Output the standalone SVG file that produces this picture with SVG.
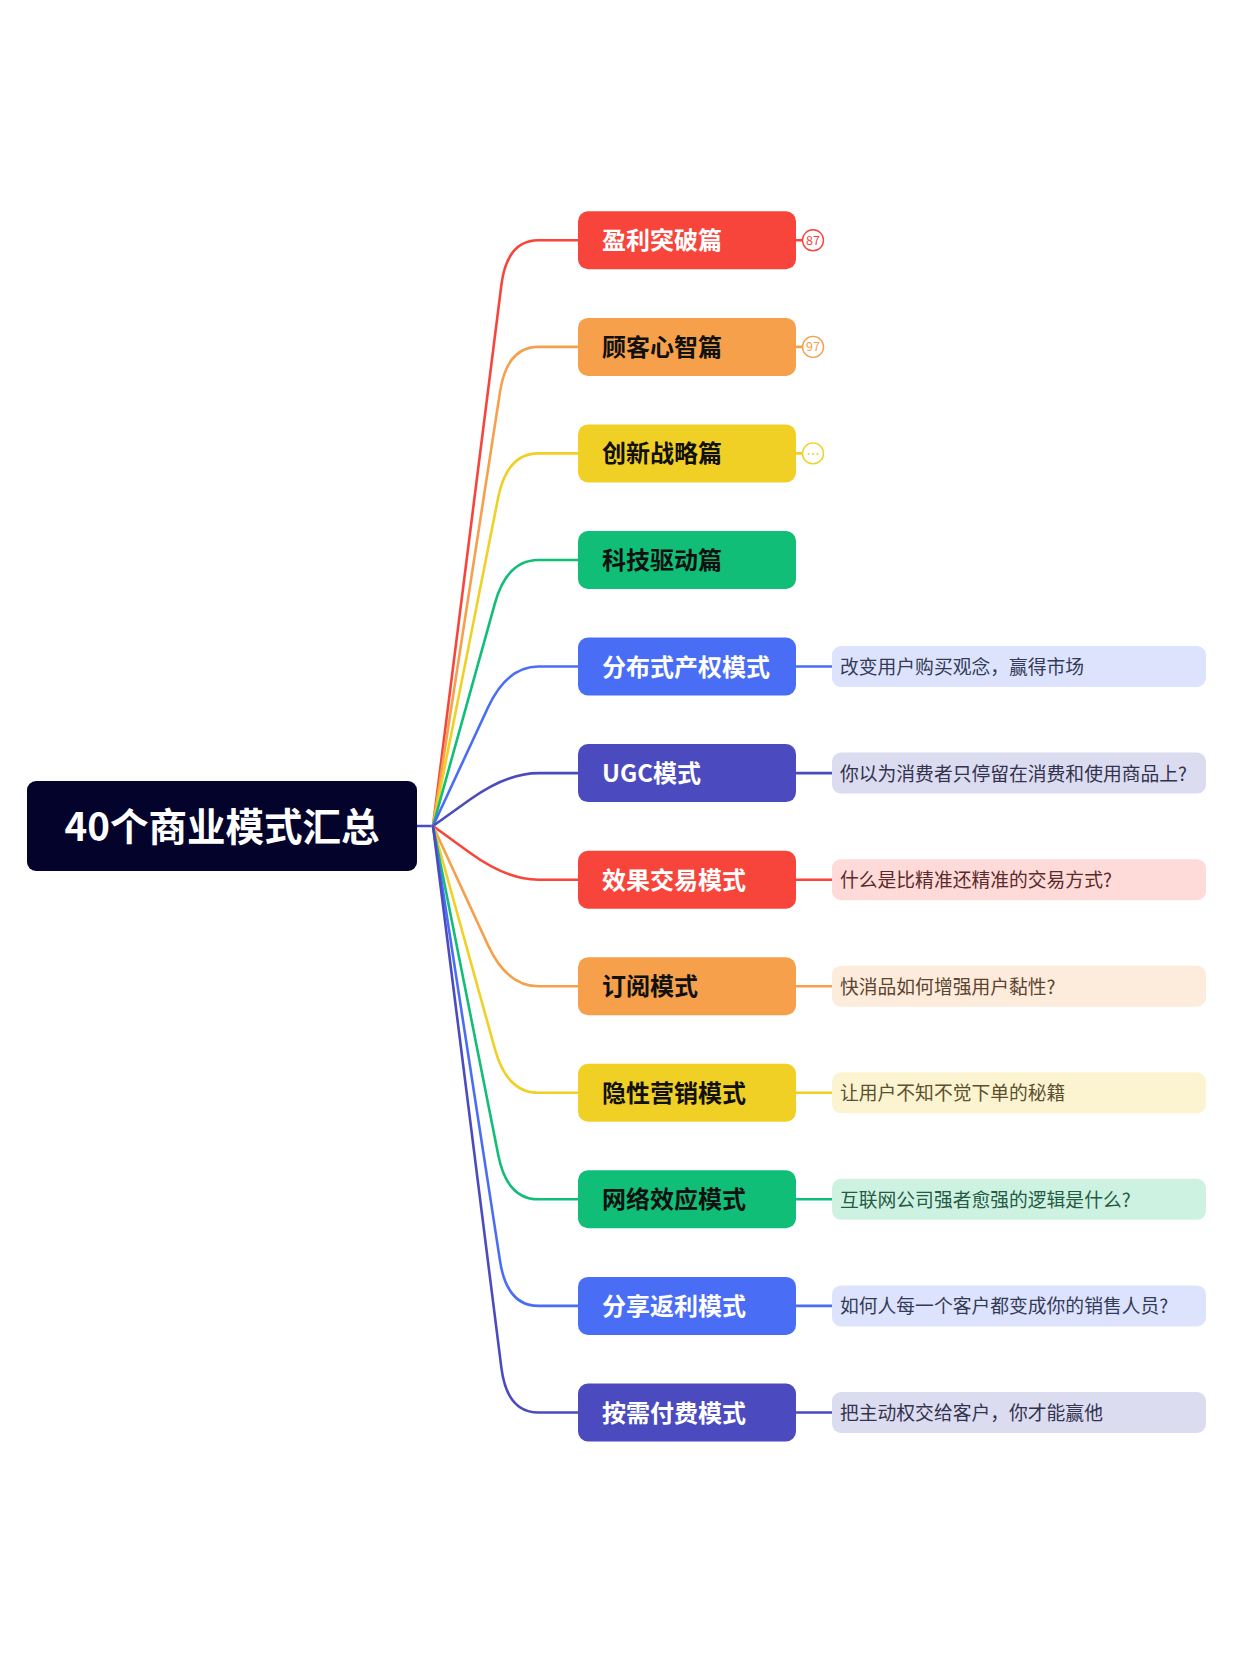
<svg xmlns="http://www.w3.org/2000/svg" width="1242" height="1660" viewBox="0 0 1242 1660">
<style>
text{font-family:"Noto Sans CJK SC","Noto Sans",sans-serif}
.root-t{font-size:38.5px;font-weight:700;fill:#ffffff}
.nt{font-size:24px;font-weight:700}
.w{fill:#ffffff}
.k{fill:#111111}
.dt{font-size:18.8px;font-weight:400}
.ln{fill:none;stroke-width:2.6;stroke-linecap:round}
.cn{font-size:12.5px;text-anchor:middle}
.r{stroke:#f8453b}.o{stroke:#f6a04b}.y{stroke:#f1d025}.g{stroke:#10be78}.b{stroke:#4a6df6}.p{stroke:#4b4bbf}
</style>
<rect width="1242" height="1660" fill="#ffffff"/>
<g id="connectors">
<path class="ln p" d="M417 826 L433 826"/>
<path class="ln r" d="M433 826 L501.4 284.9 Q507 240.3 538.5 240.3 L578 240.3"/>
<path class="ln o" d="M433 826 L500.1 391.4 Q507 346.9 538.5 346.9 L578 346.9"/>
<path class="ln y" d="M433 826 L498.2 497.5 Q507 453.4 538.5 453.4 L578 453.4"/>
<path class="ln g" d="M433 826 L494.9 603.4 Q507 560 538.5 560 L578 560"/>
<path class="ln b" d="M433 826 L488.1 707.3 Q507 666.5 538.5 666.5 L578 666.5"/>
<path class="ln p" d="M433 826 L470.4 799.3 Q507 773.1 538.5 773.1 L578 773.1"/>
<path class="ln r" d="M433 826 L470.6 853.3 Q507 879.7 538.5 879.7 L578 879.7"/>
<path class="ln o" d="M433 826 L488.1 945.4 Q507 986.2 538.5 986.2 L578 986.2"/>
<path class="ln y" d="M433 826 L495 1049.4 Q507 1092.8 538.5 1092.8 L578 1092.8"/>
<path class="ln g" d="M433 826 L498.3 1155.2 Q507 1199.3 538.5 1199.3 L578 1199.3"/>
<path class="ln b" d="M433 826 L500.1 1261.4 Q507 1305.9 538.5 1305.9 L578 1305.9"/>
<path class="ln p" d="M433 826 L501.4 1367.9 Q507 1412.5 538.5 1412.5 L578 1412.5"/>
<path class="ln r" d="M796 240.3 L802 240.3"/>
<path class="ln o" d="M796 346.9 L802 346.9"/>
<path class="ln y" d="M796 453.4 L802 453.4"/>
<path class="ln b" d="M796 666.5 L832 666.5"/>
<path class="ln p" d="M796 773.1 L832 773.1"/>
<path class="ln r" d="M796 879.7 L832 879.7"/>
<path class="ln o" d="M796 986.2 L832 986.2"/>
<path class="ln y" d="M796 1092.8 L832 1092.8"/>
<path class="ln g" d="M796 1199.3 L832 1199.3"/>
<path class="ln b" d="M796 1305.9 L832 1305.9"/>
<path class="ln p" d="M796 1412.5 L832 1412.5"/>
</g>
<g id="root">
<rect x="27" y="781" width="390" height="90" rx="9" fill="#03032b"/>
<text class="root-t" x="222" y="840.5" text-anchor="middle">40个商业模式汇总</text>
</g>
<g id="n1">
<rect x="578" y="211.3" width="218" height="58" rx="10" fill="#f8453b"/>
<text class="nt w" x="602" y="249.3">盈利突破篇</text>
<circle cx="813" cy="240.3" r="10.5" fill="#ffffff" stroke="#f8453b" stroke-width="1.4"/>
<text class="cn" x="813" y="244.8" fill="#f8453b">87</text>
</g>
<g id="n2">
<rect x="578" y="317.9" width="218" height="58" rx="10" fill="#f6a04b"/>
<text class="nt k" x="602" y="355.9">顾客心智篇</text>
<circle cx="813" cy="346.9" r="10.5" fill="#ffffff" stroke="#f6a04b" stroke-width="1.4"/>
<text class="cn" x="813" y="351.4" fill="#f6a04b">97</text>
</g>
<g id="n3">
<rect x="578" y="424.4" width="218" height="58" rx="10" fill="#f1d025"/>
<text class="nt k" x="602" y="462.4">创新战略篇</text>
<circle cx="813" cy="453.4" r="10.5" fill="#ffffff" stroke="#f1d025" stroke-width="1.4"/>
<circle cx="808.5" cy="454" r="1" fill="#f1d025"/>
<circle cx="813" cy="454" r="1" fill="#f1d025"/>
<circle cx="817.5" cy="454" r="1" fill="#f1d025"/>
</g>
<g id="n4">
<rect x="578" y="531" width="218" height="58" rx="10" fill="#10be78"/>
<text class="nt k" x="602" y="569">科技驱动篇</text>
</g>
<g id="n5">
<rect x="578" y="637.5" width="218" height="58" rx="10" fill="#4a6df6"/>
<text class="nt w" x="602" y="675.5">分布式产权模式</text>
<rect x="832" y="646" width="374" height="41" rx="9" fill="#dde3fd"/>
<text class="dt" x="840" y="674" fill="#343b56">改变用户购买观念，赢得市场</text>
</g>
<g id="n6">
<rect x="578" y="744.1" width="218" height="58" rx="10" fill="#4b4bbf"/>
<text class="nt w" x="602" y="782.1">UGC模式</text>
<rect x="832" y="752.6" width="374" height="41" rx="9" fill="#dcdcf0"/>
<text class="dt" x="840" y="780.6" fill="#33334f">你以为消费者只停留在消费和使用商品上?</text>
</g>
<g id="n7">
<rect x="578" y="850.7" width="218" height="58" rx="10" fill="#f8453b"/>
<text class="nt w" x="602" y="888.7">效果交易模式</text>
<rect x="832" y="859.2" width="374" height="41" rx="9" fill="#fedad9"/>
<text class="dt" x="840" y="887.2" fill="#5a2b2a">什么是比精准还精准的交易方式?</text>
</g>
<g id="n8">
<rect x="578" y="957.2" width="218" height="58" rx="10" fill="#f6a04b"/>
<text class="nt k" x="602" y="995.2">订阅模式</text>
<rect x="832" y="965.7" width="374" height="41" rx="9" fill="#fdebdc"/>
<text class="dt" x="840" y="993.7" fill="#5c4430">快消品如何增强用户黏性?</text>
</g>
<g id="n9">
<rect x="578" y="1063.8" width="218" height="58" rx="10" fill="#f1d025"/>
<text class="nt k" x="602" y="1101.8">隐性营销模式</text>
<rect x="832" y="1072.3" width="374" height="41" rx="9" fill="#fcf4d0"/>
<text class="dt" x="840" y="1100.3" fill="#5b5030">让用户不知不觉下单的秘籍</text>
</g>
<g id="n10">
<rect x="578" y="1170.3" width="218" height="58" rx="10" fill="#10be78"/>
<text class="nt k" x="602" y="1208.3">网络效应模式</text>
<rect x="832" y="1178.8" width="374" height="41" rx="9" fill="#cef2e2"/>
<text class="dt" x="840" y="1206.8" fill="#255a44">互联网公司强者愈强的逻辑是什么?</text>
</g>
<g id="n11">
<rect x="578" y="1276.9" width="218" height="58" rx="10" fill="#4a6df6"/>
<text class="nt w" x="602" y="1314.9">分享返利模式</text>
<rect x="832" y="1285.4" width="374" height="41" rx="9" fill="#dde3fd"/>
<text class="dt" x="840" y="1313.4" fill="#343b56">如何人每一个客户都变成你的销售人员?</text>
</g>
<g id="n12">
<rect x="578" y="1383.5" width="218" height="58" rx="10" fill="#4b4bbf"/>
<text class="nt w" x="602" y="1421.5">按需付费模式</text>
<rect x="832" y="1392" width="374" height="41" rx="9" fill="#dcdcf0"/>
<text class="dt" x="840" y="1420" fill="#33334f">把主动权交给客户，你才能赢他</text>
</g>
</svg>
